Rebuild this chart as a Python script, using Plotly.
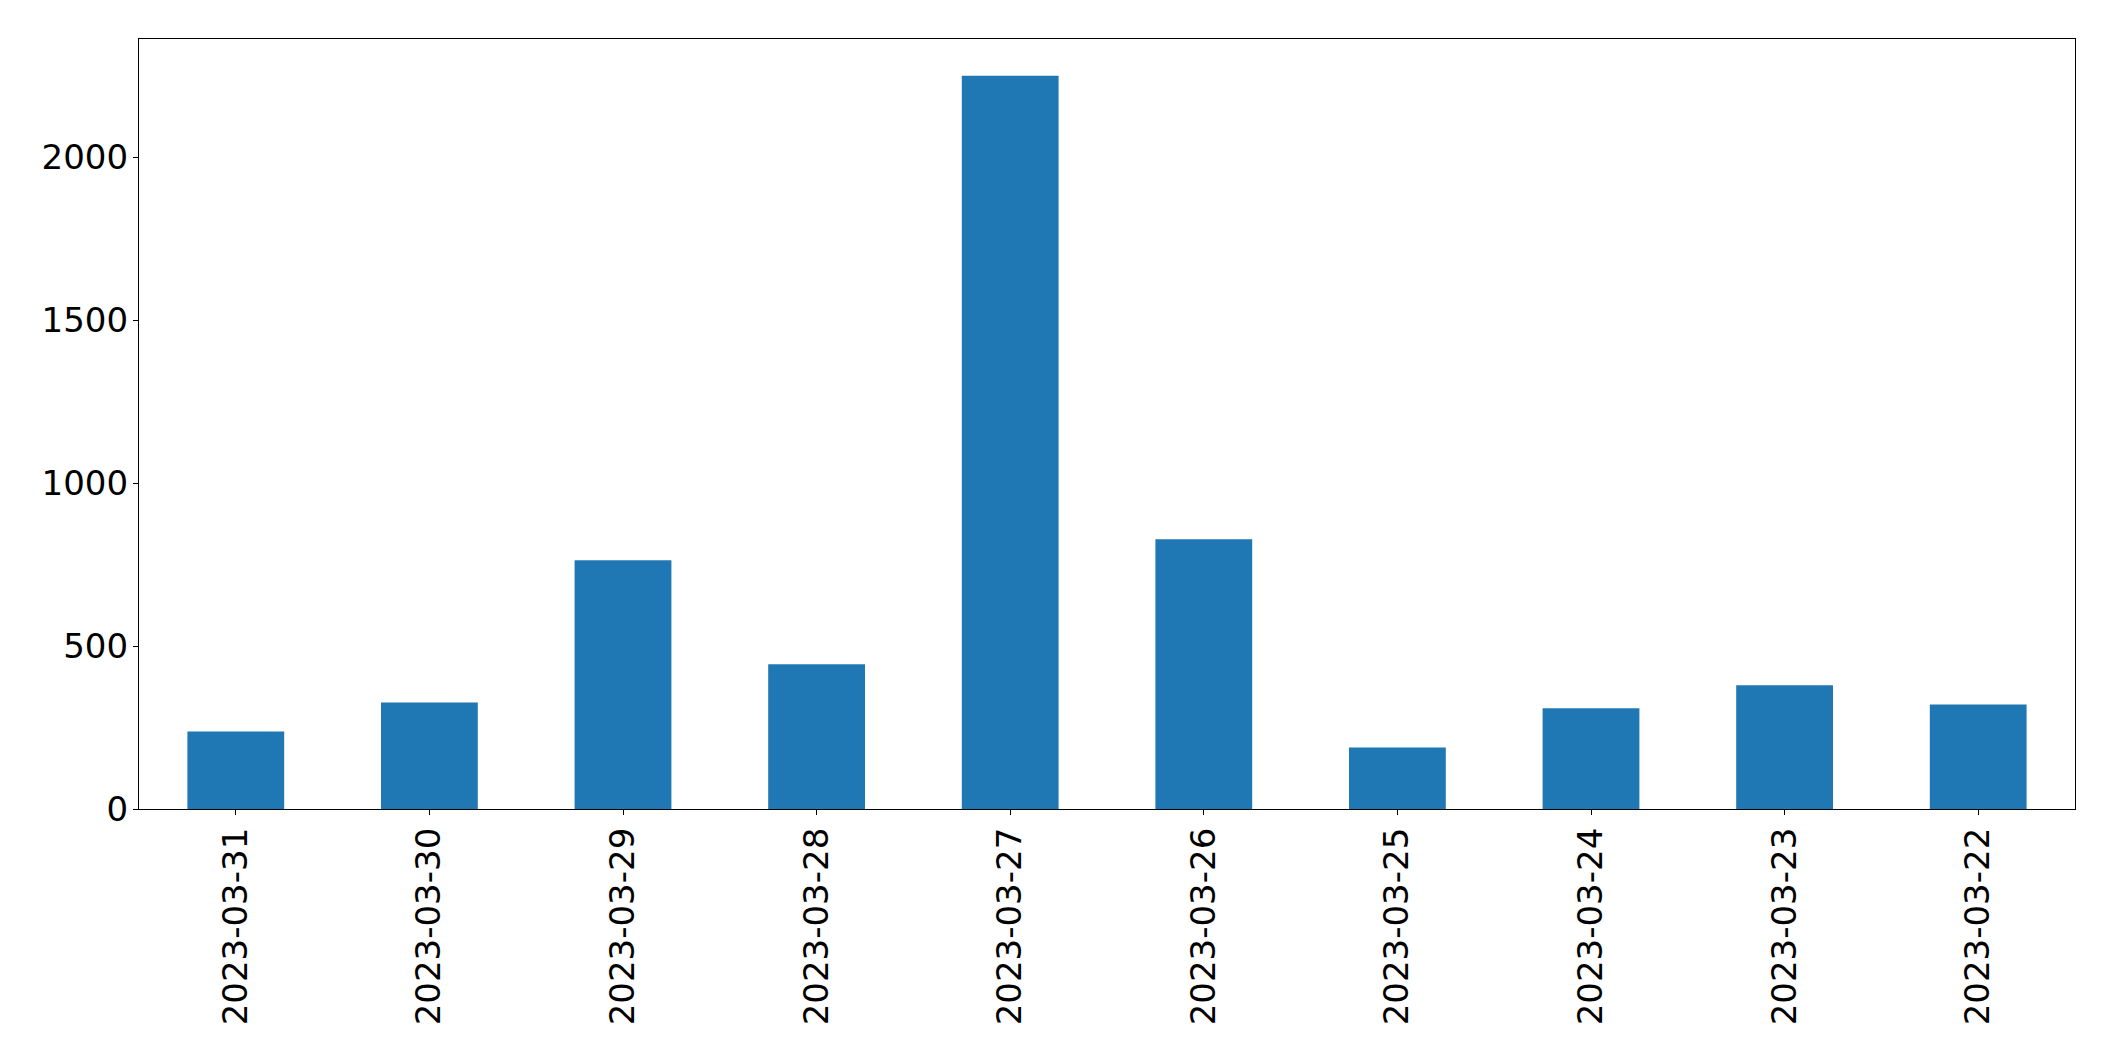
import plotly.graph_objects as go

dates = ["2023-03-31", "2023-03-30", "2023-03-29", "2023-03-28", "2023-03-27",
         "2023-03-26", "2023-03-25", "2023-03-24", "2023-03-23", "2023-03-22"]
counts = [238, 327, 763, 444, 2250, 828, 189, 309, 380, 321]
y_ticks = [0, 500, 1000, 1500, 2000]

fig = go.Figure(go.Bar(x=dates, y=counts, width=0.5, marker_color="#1f77b4",
                       marker_line_width=0))

axis_common = dict(showline=True, linecolor="black", linewidth=1.3, mirror=True,
                   ticks="outside", ticklen=5, tickwidth=1.3, tickcolor="black",
                   showgrid=False, zeroline=False,
                   tickfont=dict(family="DejaVu Sans", size=34, color="black"))

fig.update_xaxes(type="category", range=[-0.5, len(dates) - 0.5], tickangle=-90,
                 ticklabelstandoff=-1, **axis_common)
fig.update_yaxes(range=[0, max(counts) * 1.05], tickvals=y_ticks,
                 ticktext=[str(v) for v in y_ticks], ticklabelstandoff=-2,
                 **axis_common)

# page body has an 8px margin, so the figure is sized/offset to compensate
fig.update_layout(width=2107, height=1053, autosize=False,
                  margin=dict(l=131, r=40, t=31, b=252, pad=0),
                  plot_bgcolor="white", paper_bgcolor="white",
                  showlegend=False, bargap=0.5)

fig.write_html("out.html")
